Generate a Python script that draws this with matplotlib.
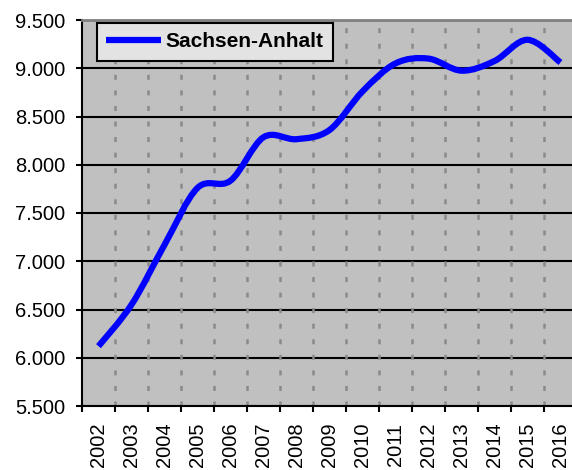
import matplotlib
matplotlib.use('Agg')
import matplotlib.pyplot as plt
import numpy as np
from matplotlib.path import Path
from matplotlib.patches import PathPatch
from matplotlib.lines import Line2D
from matplotlib.ticker import FixedLocator, FuncFormatter, NullFormatter

# ---- data ----
years = [str(y) for y in range(2002, 2017)]
values = [6120, 6550, 7170, 7760, 7835, 8285, 8265, 8360, 8760, 9050, 9100, 8975, 9075, 9295, 9060]
series_name = 'Sachsen-Anhalt'
y_ticks = [5500, 6000, 6500, 7000, 7500, 8000, 8500, 9000, 9500]

plt.rcParams['font.family'] = ['Liberation Sans', 'DejaVu Sans']
plt.rcParams['lines.scale_dashes'] = False

W, H = 572, 470
fig = plt.figure(figsize=(W / 100, H / 100), dpi=100)
fig.patch.set_facecolor('white')
ax = fig.add_axes([82 / W, (H - 406) / H, 495 / W, 386 / H])
ax.set_facecolor('#C0C0C0')

n = len(values)
x = np.arange(n)
ax.set_xlim(-0.5, n - 0.5)
ax.set_ylim(y_ticks[0], y_ticks[-1])

# smoothed line (Bezier through data points)
pts = np.column_stack([x, values]).astype(float)
verts = [pts[0]]
codes = [Path.MOVETO]
for i in range(n - 1):
    p0 = pts[i - 1] if i > 0 else pts[i]
    p3 = pts[i + 2] if i + 2 < n else pts[i + 1]
    c1 = pts[i] + (pts[i + 1] - p0) / 6.0
    c2 = pts[i + 1] - (p3 - pts[i]) / 6.0
    verts += [c1, c2, pts[i + 1]]
    codes += [Path.CURVE4] * 3
patch = PathPatch(Path(verts, codes), fill=False, edgecolor='#0000FF', lw=4.5,
                  capstyle='butt', joinstyle='round', zorder=3)
ax.add_patch(patch)

# y axis
ax.yaxis.set_major_locator(FixedLocator(y_ticks))
ax.yaxis.set_major_formatter(FuncFormatter(lambda v, p: f"{v:,.0f}".replace(',', '.')))
ax.tick_params(axis='y', which='major', length=4.3, width=1.5, direction='out',
               pad=8, labelsize=14.5, colors='black')
ax.yaxis.grid(True, color='black', lw=1.5)
ax.set_axisbelow(True)

# x axis: ticks at category boundaries, labels at centers
bounds = np.arange(-0.5, n, 1.0)
ax.xaxis.set_major_locator(FixedLocator(bounds))
ax.xaxis.set_major_formatter(NullFormatter())
ax.xaxis.set_minor_locator(FixedLocator(x))
ax.set_xticklabels(years, minor=True)
ax.tick_params(axis='x', which='major', length=4.3, width=1.5, direction='out')
ax.tick_params(axis='x', which='minor', length=0, pad=12, labelsize=14.5, labelrotation=90)

for xb in bounds[1:]:
    ax.axvline(xb, color='#8A8A8A', lw=1.8, ls=(0, (3.6, 7.6)), zorder=1)

# spines
ax.spines['left'].set_linewidth(1.5)
ax.spines['left'].set_color('black')
ax.spines['bottom'].set_linewidth(1.5)
ax.spines['bottom'].set_color('black')
ax.spines['top'].set_color('#808080')
ax.spines['top'].set_linewidth(2)
ax.spines['right'].set_visible(False)

# legend
handle = Line2D([], [], color='#0000FF', lw=4.5, solid_capstyle='butt')
leg = ax.legend([handle], [series_name], loc='upper left',
                bbox_to_anchor=(97 / W, (H - 23) / H), bbox_transform=fig.transFigure,
                borderaxespad=0, fancybox=False, framealpha=1, frameon=True,
                prop={'weight': 'bold', 'size': 15}, handlelength=2.6,
                handletextpad=0.25, borderpad=0.45)
frame = leg.get_frame()
frame.set_facecolor('#E3E3E3')
frame.set_edgecolor('black')
frame.set_linewidth(1.5)

fig.savefig('out.png', dpi=100)
